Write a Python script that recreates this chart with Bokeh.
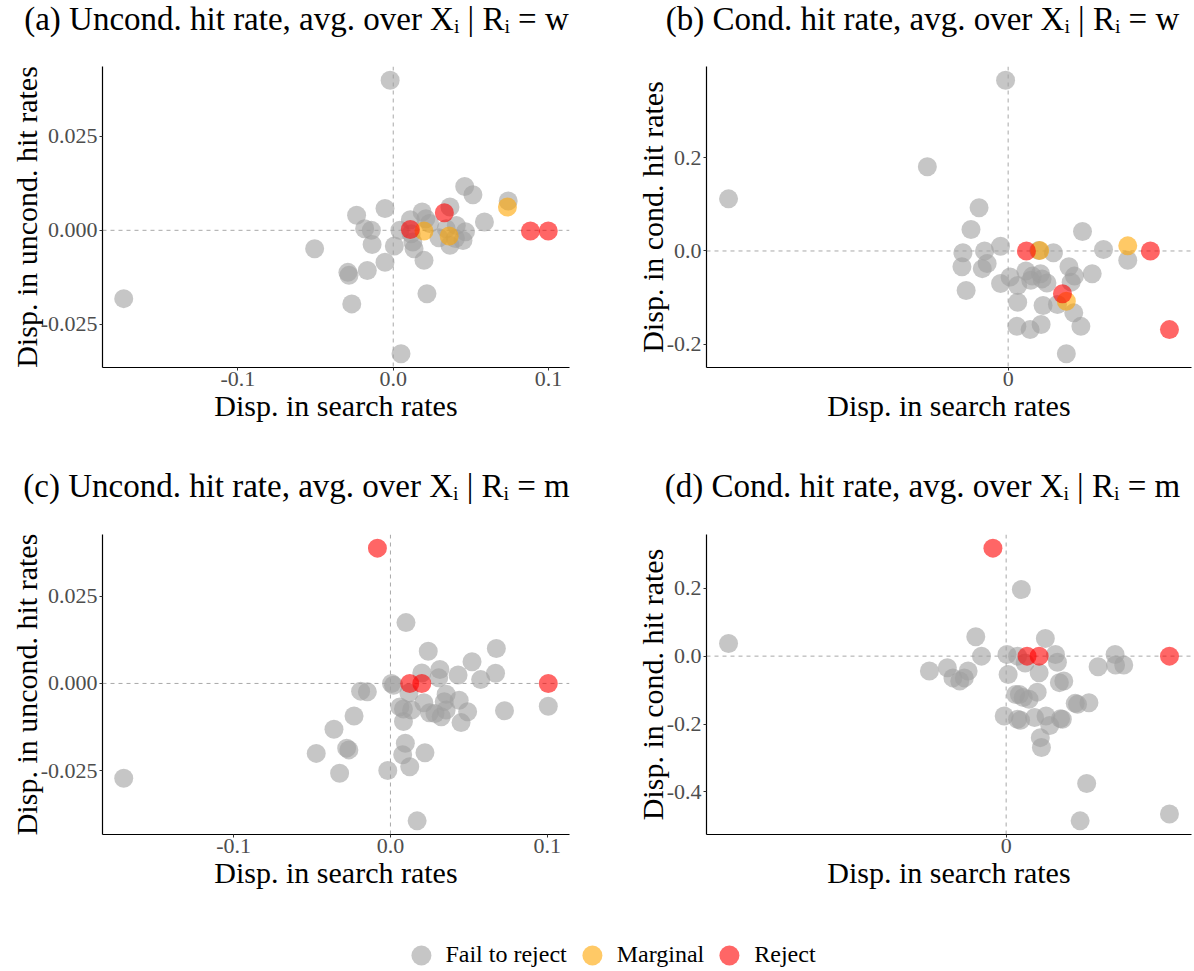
from bokeh.plotting import figure
from bokeh.models import Span, Range1d, FixedTicker, Legend, LegendItem, ColumnDataSource, Label
from bokeh.layouts import column, row
from bokeh.embed import file_html
from bokeh.resources import INLINE

# ---------------- data ----------------
statuses = ["Fail to reject", "Marginal", "Reject"]
status_colors = ["#A0A0A0", "#FFA500", "#FF0000"]

titles = [
    "(a) Uncond. hit rate, avg. over Xᵢ | Rᵢ = w",
    "(b) Cond. hit rate, avg. over Xᵢ | Rᵢ = w",
    "(c) Uncond. hit rate, avg. over Xᵢ | Rᵢ = m",
    "(d) Cond. hit rate, avg. over Xᵢ | Rᵢ = m",
]
x_title = "Disp. in search rates"
y_titles = ["Disp. in uncond. hit rates", "Disp. in cond. hit rates",
            "Disp. in uncond. hit rates", "Disp. in cond. hit rates"]

x_ticks_uncond = [-0.1, 0.0, 0.1]
x_tick_labels_uncond = ["-0.1", "0.0", "0.1"]
x_ticks_cond = [0.0]
x_tick_labels_cond = ["0"]
y_ticks_a = [-0.025, 0.0, 0.025]
y_tick_labels_a = ["-0.025", "0.000", "0.025"]
y_ticks_b = [-0.2, 0.0, 0.2]
y_tick_labels_b = ["-0.2", "0.0", "0.2"]
y_ticks_c = [-0.025, 0.0, 0.025]
y_tick_labels_c = ["-0.025", "0.000", "0.025"]
y_ticks_d = [-0.4, -0.2, 0.0, 0.2]
y_tick_labels_d = ["-0.4", "-0.2", "0.0", "0.2"]

# panel (a)
a_fail_x = [-0.002, -0.1735, -0.0506, -0.0292, -0.0285, -0.0267, -0.0167, -0.0236, -0.0184,
            -0.0141, -0.0136, -0.0053, -0.0053, 0.0007, 0.0043, 0.0110, 0.0115, 0.0126, 0.0134,
            0.0186, 0.0198, 0.0210, 0.0217, 0.0234, 0.0294, 0.0365, 0.0341, 0.0365, 0.0406,
            0.0460, 0.0449, 0.0513, 0.0587, 0.0740, 0.0465, 0.0050, 0.0400]
a_fail_y = [0.0400, -0.0182, -0.0049, -0.0112, -0.0120, -0.0196, -0.0107, 0.0040, 0.0004,
            0.0000, -0.0038, 0.0058, -0.0085, -0.0042, 0.0000, 0.0028, -0.0009, -0.0031, -0.0049,
            0.0049, -0.0080, 0.0031, -0.0169, 0.0018, -0.0020, 0.0062, 0.0004, -0.0040, 0.0013,
            0.0117, -0.0027, 0.0095, 0.0022, 0.0078, -0.0004, -0.0329, -0.0022]
a_marg_x = [0.0198, 0.0360, 0.0735]
a_marg_y = [-0.0002, -0.0015, 0.0062]
a_rej_x = [0.0110, 0.0329, 0.0883, 0.0998]
a_rej_y = [0.0002, 0.0047, -0.0002, -0.0002]

# panel (b)
b_fail_x = [-0.0016, -0.050, -0.173, -0.018, -0.023, -0.028, -0.0146, -0.0047, -0.0286, -0.016,
            -0.013, -0.026, -0.0047, 0.0012, 0.0059, 0.0059, 0.011, 0.014, 0.015, 0.020, 0.021,
            0.024, 0.028, 0.0216, 0.0305, 0.0054, 0.0136, 0.0204, 0.0376, 0.0406, 0.041, 0.039,
            0.046, 0.052, 0.045, 0.036, 0.059, 0.074, 0.019]
b_fail_y = [0.367, 0.181, 0.112, 0.093, 0.046, -0.004, 0.0, 0.010, -0.034, -0.038,
            -0.027, -0.085, -0.070, -0.056, -0.074, -0.110, -0.043, -0.063, -0.054, -0.049, -0.060,
            -0.069, -0.004, -0.117, -0.115, -0.162, -0.169, -0.158, -0.034, -0.133, -0.054, -0.067,
            0.042, -0.049, -0.162, -0.221, 0.003, -0.020, 0.001]
b_marg_x = [0.0195, 0.036, 0.074]
b_marg_y = [0.001, -0.108, 0.011]
b_rej_x = [0.0113, 0.0336, 0.088, 0.0998]
b_rej_y = [0.0, -0.092, 0.0, -0.169]

# panel (c)
c_fail_x = [-0.170, -0.0473, -0.036, -0.0324, -0.0279, -0.0265, -0.0232, -0.019, -0.0147, -0.0017,
            0.0007, 0.002, 0.0099, 0.006, 0.0083, 0.0083, 0.0095, 0.0078, 0.0123, 0.0118, 0.0135,
            0.017, 0.020, 0.0213, 0.022, 0.0241, 0.0249, 0.0284, 0.0315, 0.0308, 0.0324, 0.0343,
            0.0355, 0.0355, 0.0431, 0.0438, 0.045, 0.0492, 0.052, 0.0575, 0.067, 0.0675, 0.0727,
            0.1006]
c_fail_y = [-0.0271, -0.0200, -0.0131, -0.0257, -0.0185, -0.0190, -0.0093, -0.0022, -0.0024, -0.0249,
            0.0000, -0.0005, 0.0174, -0.0067, -0.0073, -0.0109, -0.0171, -0.0204, -0.0238, -0.0027, -0.0076,
            -0.0393, 0.0030, -0.0055, -0.0198, 0.0092, -0.0084, -0.0086, 0.0040, 0.0016, -0.0095, -0.0052,
            -0.0031, -0.0076, 0.0024, -0.0048, -0.0112, -0.0081, 0.0062, 0.0011, 0.0029, 0.0100, -0.0078,
            -0.0065]
c_marg_x = []
c_marg_y = []
c_rej_x = [-0.0083, 0.0123, 0.020, 0.1006]
c_rej_y = [0.0387, 0.0, 0.0, 0.0]

# panel (d)
d_fail_x = [-0.170, -0.047, -0.036, -0.0326, -0.0284, -0.0256, -0.0233, -0.0186, -0.0151, 0.0005,
            0.0012, -0.0012, 0.0093, 0.007, 0.0058, 0.0081, 0.0105, 0.014, 0.007, 0.0088, 0.0116,
            0.0174, 0.019, 0.0202, 0.0209, 0.0216, 0.024, 0.0244, 0.0267, 0.0302, 0.0314, 0.0326,
            0.0353, 0.0333, 0.0344, 0.0423, 0.0437, 0.0493, 0.0453, 0.0507, 0.0563, 0.0667, 0.067,
            0.072, 0.100]
d_fail_y = [0.037, -0.044, -0.034, -0.064, -0.073, -0.064, -0.044, 0.057, 0.0, 0.005,
            -0.054, -0.176, 0.196, 0.0, -0.113, -0.113, -0.122, -0.127, -0.186, -0.189, -0.020,
            -0.181, -0.106, -0.049, -0.240, -0.269, 0.052, -0.176, -0.204, 0.005, -0.018, -0.078,
            -0.073, -0.184, -0.186, -0.139, -0.142, -0.375, -0.485, -0.137, -0.031, 0.005, -0.026,
            -0.026, -0.465]
d_marg_x = []
d_marg_y = []
d_rej_x = [-0.0081, 0.0128, 0.0202, 0.100]
d_rej_y = [0.318, 0.0, 0.0, 0.0]

# ---------------- styling ----------------
SERIF = "Liberation Serif"
POINT_SIZE = 19
ALPHA = 0.6
LEFT_W, RIGHT_W = 600, 594
TITLE_H = 40


def padded(vals, frac=0.05):
    lo, hi = min(vals), max(vals)
    span = hi - lo
    return Range1d(lo - frac * span, hi + frac * span)


def bare(width, height, **borders):
    f = figure(width=width, height=height, x_range=Range1d(0, 1), y_range=Range1d(0, 1),
               output_backend="svg", toolbar_location=None,
               min_border_left=borders.get("left", 0), min_border_right=borders.get("right", 0),
               min_border_top=borders.get("top", 0), min_border_bottom=borders.get("bottom", 0))
    f.axis.visible = False
    f.grid.visible = False
    f.outline_line_color = None
    return f


def title_strip(text, width, cx):
    t = bare(width, TITLE_H)
    t.add_layout(Label(x=cx, y=TITLE_H - 18, x_units="screen", y_units="screen",
                       text=text, text_align="center", text_baseline="middle",
                       text_font=SERIF, text_font_size="33px", text_color="black"))
    return t


def panel(ylab, groups, xticks, xlabels, yticks, ylabels,
          frame_w, frame_h, left, right, top, bottom):
    all_x = [v for g in groups for v in g[0]]
    all_y = [v for g in groups for v in g[1]]
    p = figure(frame_width=frame_w, frame_height=frame_h,
               min_border_left=left, min_border_right=right,
               min_border_top=top, min_border_bottom=bottom,
               x_range=padded(all_x), y_range=padded(all_y),
               output_backend="svg", toolbar_location=None,
               background_fill_color="white", border_fill_color="white")
    p.outline_line_color = None
    p.grid.visible = False

    for ax in (p.xaxis[0], p.yaxis[0]):
        ax.axis_line_color = "black"
        ax.axis_line_width = 1.2
        ax.major_tick_line_color = "#333333"
        ax.major_tick_out = 3
        ax.major_tick_in = 0
        ax.minor_tick_line_color = None
        ax.major_label_text_font = SERIF
        ax.major_label_text_font_size = "22px"
        ax.major_label_text_color = "#4D4D4D"
        ax.axis_label_text_font = SERIF
        ax.axis_label_text_font_size = "30px"
        ax.axis_label_text_font_style = "normal"
        ax.axis_label_text_color = "black"
    p.xaxis[0].ticker = FixedTicker(ticks=xticks)
    p.xaxis[0].major_label_overrides = {t: l for t, l in zip(xticks, xlabels)}
    p.xaxis[0].axis_label = x_title
    p.xaxis[0].major_label_standoff = 1
    p.xaxis[0].axis_label_standoff = 0
    p.yaxis[0].ticker = FixedTicker(ticks=yticks)
    p.yaxis[0].major_label_overrides = {t: l for t, l in zip(yticks, ylabels)}
    p.yaxis[0].axis_label = ylab
    p.yaxis[0].major_label_standoff = 2
    p.yaxis[0].axis_label_standoff = -5

    for dim in ("width", "height"):
        p.add_layout(Span(location=0, dimension=dim, line_color="#A8A8A8",
                          line_dash="4 4", line_width=1, level="underlay"))

    for (gx, gy), color in zip(groups, status_colors):
        if len(gx) == 0:
            continue
        src = ColumnDataSource(dict(x=gx, y=gy))
        p.scatter("x", "y", source=src, size=POINT_SIZE, fill_color=color,
                  fill_alpha=ALPHA, line_color=None)
    return p


ta = title_strip(titles[0], LEFT_W, 296)
tb = title_strip(titles[1], RIGHT_W, 322)
tc = title_strip(titles[2], LEFT_W, 296)
td = title_strip(titles[3], RIGHT_W, 322)

pa = panel(y_titles[0],
           [(a_fail_x, a_fail_y), (a_marg_x, a_marg_y), (a_rej_x, a_rej_y)],
           x_ticks_uncond, x_tick_labels_uncond, y_ticks_a, y_tick_labels_a,
           467, 301, 102, 31, 26, 100)
pb = panel(y_titles[1],
           [(b_fail_x, b_fail_y), (b_marg_x, b_marg_y), (b_rej_x, b_rej_y)],
           x_ticks_cond, x_tick_labels_cond, y_ticks_b, y_tick_labels_b,
           485, 301, 106, 3, 26, 100)
pc = panel(y_titles[2],
           [(c_fail_x, c_fail_y), (c_marg_x, c_marg_y), (c_rej_x, c_rej_y)],
           x_ticks_uncond, x_tick_labels_uncond, y_ticks_c, y_tick_labels_c,
           467, 300, 102, 31, 27, 66)
pd_ = panel(y_titles[3],
            [(d_fail_x, d_fail_y), (d_marg_x, d_marg_y), (d_rej_x, d_rej_y)],
            x_ticks_cond, x_tick_labels_cond, y_ticks_d, y_tick_labels_d,
            485, 300, 106, 3, 27, 66)

# legend strip
lg = bare(1194, 71, left=17, top=38)
items = []
for label, color in zip(statuses, status_colors):
    # placed outside the visible range: only the legend swatch shows
    r = lg.scatter(x=[-5], y=[-5], size=POINT_SIZE, fill_color=color, fill_alpha=ALPHA, line_color=None)
    items.append(LegendItem(label=label, renderers=[r]))
legend = Legend(items=items, orientation="horizontal", location="center",
                glyph_width=50, glyph_height=50, label_standoff=-10, spacing=-7,
                label_text_font=SERIF, label_text_font_size="24px",
                label_text_color="black", border_line_color=None,
                background_fill_alpha=0, padding=0, margin=0)
lg.add_layout(legend, "center")

layout = column(row(ta, tb), row(pa, pb), row(tc, td), row(pc, pd_), lg)
open("out.html", "w").write(file_html(layout, INLINE))
